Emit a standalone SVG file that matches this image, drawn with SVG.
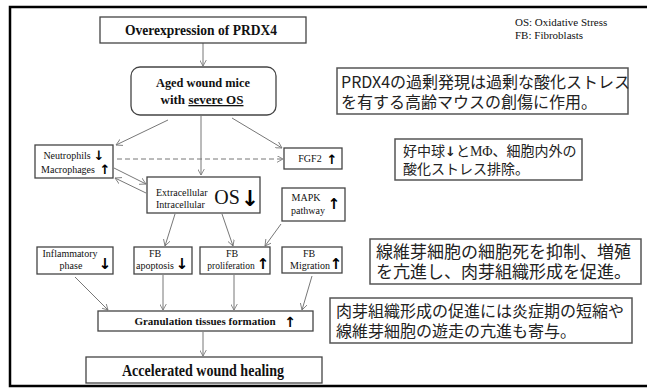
<svg xmlns="http://www.w3.org/2000/svg" width="647" height="388" viewBox="0 0 647 388">
<defs>
<marker id="ah" viewBox="0 0 10 10" refX="9" refY="5" markerWidth="7" markerHeight="7" orient="auto" markerUnits="userSpaceOnUse">
<path d="M0,0 L9,5 L0,10" fill="none" stroke="#777" stroke-width="1.2"/>
</marker>
<style>
.box{fill:#fff;stroke:#444;stroke-width:1.3}
.jbox{fill:#fff;stroke:#555;stroke-width:1.5}
.t{font-family:"Liberation Serif","Times New Roman",serif;fill:#111}
.b{font-weight:bold}
.s{font-size:10px}
.m{text-anchor:middle}
.ar{font-family:"DejaVu Sans",sans-serif;font-weight:bold;fill:#000;text-anchor:middle}
.jp{font-family:"Noto Sans CJK JP",sans-serif;fill:#222}
.c{stroke:#777;stroke-width:1;fill:none;marker-end:url(#ah)}
</style>
</defs>
<rect width="647" height="388" fill="#fff"/>
<path d="M648,7 H10 V386 H648" fill="none" stroke="#000" stroke-width="2.5"/>

<g id="connectors">
<line class="c" x1="203" y1="43" x2="203" y2="66"/>
<line class="c" x1="168" y1="120" x2="116" y2="145"/>
<line class="c" x1="201" y1="116" x2="201" y2="175"/>
<line class="c" x1="232" y1="118" x2="282" y2="148"/>
<line class="c" x1="117" y1="159" x2="283" y2="159" stroke-dasharray="5,3"/>
<line class="c" x1="114" y1="168" x2="146" y2="184"/>
<line class="c" x1="146" y1="193" x2="115" y2="178"/>
<line class="c" x1="175" y1="214" x2="165" y2="246"/>
<line class="c" x1="222" y1="214" x2="233" y2="246"/>
<line class="c" x1="281" y1="224" x2="265" y2="246"/>
<line class="c" x1="75" y1="277" x2="108" y2="310"/>
<line class="c" x1="163" y1="275" x2="163" y2="310"/>
<line class="c" x1="234" y1="275" x2="234" y2="310"/>
<line class="c" x1="312" y1="276" x2="302" y2="310"/>
<line class="c" x1="203" y1="332" x2="203" y2="356"/>
</g>

<g id="overexpression">
<rect class="box" x="100" y="17" width="206" height="26"/>
<text class="t b m" x="201" y="35" font-size="15" textLength="152" lengthAdjust="spacingAndGlyphs">Overexpression of PRDX4</text>
</g>

<g id="aged">
<rect class="box" x="131" y="67" width="145" height="48" rx="9"/>
<text class="t b m" x="203" y="87" font-size="13" textLength="94" lengthAdjust="spacingAndGlyphs">Aged wound mice</text>
<text class="t b m" x="202" y="104" font-size="13" textLength="83" lengthAdjust="spacingAndGlyphs">with <tspan text-decoration="underline">severe OS</tspan></text>
</g>

<g id="neutrophils">
<rect class="box" x="35" y="145" width="78" height="33"/>
<text class="t s m" x="67" y="158.5">Neutrophils</text>
<text class="t s m" x="68" y="172.5">Macrophages</text>
<text class="ar" x="99" y="160" font-size="13">↓</text>
<text class="ar" x="105" y="174" font-size="13">↑</text>
</g>

<g id="fgf2">
<rect class="box" x="284" y="148" width="58" height="21"/>
<text class="t s m" x="310" y="162">FGF2</text>
<text class="ar" x="332" y="164" font-size="13">↑</text>
</g>

<g id="os">
<rect class="box" x="147" y="177" width="113" height="36"/>
<text class="t s" x="156" y="196">Extracellular</text>
<text class="t s" x="156" y="208">Intracellular</text>
<text class="t m" x="227" y="204" font-size="20">OS</text>
<text class="ar" x="250" y="206" font-size="22">↓</text>
</g>

<g id="mapk">
<rect class="box" x="282" y="188" width="63" height="33"/>
<text class="t s m" x="306" y="201">MAPK</text>
<text class="t s m" x="308" y="214">pathway</text>
<text class="ar" x="334" y="209" font-size="15">↑</text>
</g>

<g id="inflammatory">
<rect class="box" x="37" y="247" width="76" height="27"/>
<text class="t s m" x="70" y="257">Inflammatory</text>
<text class="t s m" x="71" y="269">phase</text>
<text class="ar" x="105" y="269" font-size="15">↓</text>
</g>

<g id="apoptosis">
<rect class="box" x="134" y="247" width="58" height="27"/>
<text class="t s m" x="155" y="257">FB</text>
<text class="t s m" x="155" y="269">apoptosis</text>
<text class="ar" x="182" y="269" font-size="15">↓</text>
</g>

<g id="proliferation">
<rect class="box" x="200" y="247" width="70" height="27"/>
<text class="t s m" x="232" y="257">FB</text>
<text class="t m" x="231" y="269" font-size="9.5">proliferation</text>
<text class="ar" x="263" y="269" font-size="15">↑</text>
</g>

<g id="migration">
<rect class="box" x="282" y="247" width="60" height="26"/>
<text class="t s m" x="309" y="257">FB</text>
<text class="t s m" x="310" y="269">Migration</text>
<text class="ar" x="336" y="269" font-size="15">↑</text>
</g>

<g id="granulation">
<rect class="box" x="98" y="311" width="215" height="20"/>
<text class="t b m" x="205" y="325" font-size="11">Granulation tissues formation</text>
<text class="ar" x="290" y="327" font-size="14">↑</text>
</g>

<g id="accelerated">
<rect class="box" x="86" y="357" width="236" height="26"/>
<text class="t b m" x="203" y="376" font-size="17" textLength="162" lengthAdjust="spacingAndGlyphs">Accelerated wound healing</text>
</g>

<g id="legend">
<text class="t" x="515" y="26" font-size="11">OS: Oxidative Stress</text>
<text class="t" x="515" y="39" font-size="11">FB: Fibroblasts</text>
</g>

<g id="note1">
<rect class="jbox" x="337" y="68" width="291" height="46"/>
<text class="jp" x="341" y="88" font-size="16">PRDX4の過剰発現は過剰な酸化ストレス</text>
<text class="jp" x="341" y="108" font-size="16">を有する高齢マウスの創傷に作用。</text>
</g>

<g id="note2">
<rect class="jbox" x="395" y="139" width="187" height="41"/>
<text class="jp" x="403" y="156" font-size="14">好中球<tspan font-family="'DejaVu Sans',sans-serif" font-weight="bold" font-size="13">↓</tspan>と<tspan font-family="'Liberation Serif',serif">MΦ</tspan>、細胞内外の</text>
<text class="jp" x="403" y="174" font-size="14">酸化ストレス排除。</text>
</g>

<g id="note3">
<rect class="jbox" x="370" y="239" width="271" height="45"/>
<text class="jp" x="376" y="258" font-size="17">線維芽細胞の細胞死を抑制、増殖</text>
<text class="jp" x="376" y="278" font-size="17">を亢進し、肉芽組織形成を促進。</text>
</g>

<g id="note4">
<rect class="jbox" x="330" y="298" width="302" height="45"/>
<text class="jp" x="336" y="317" font-size="16">肉芽組織形成の促進には炎症期の短縮や</text>
<text class="jp" x="336" y="337" font-size="16">線維芽細胞の遊走の亢進も寄与。</text>
</g>
</svg>
